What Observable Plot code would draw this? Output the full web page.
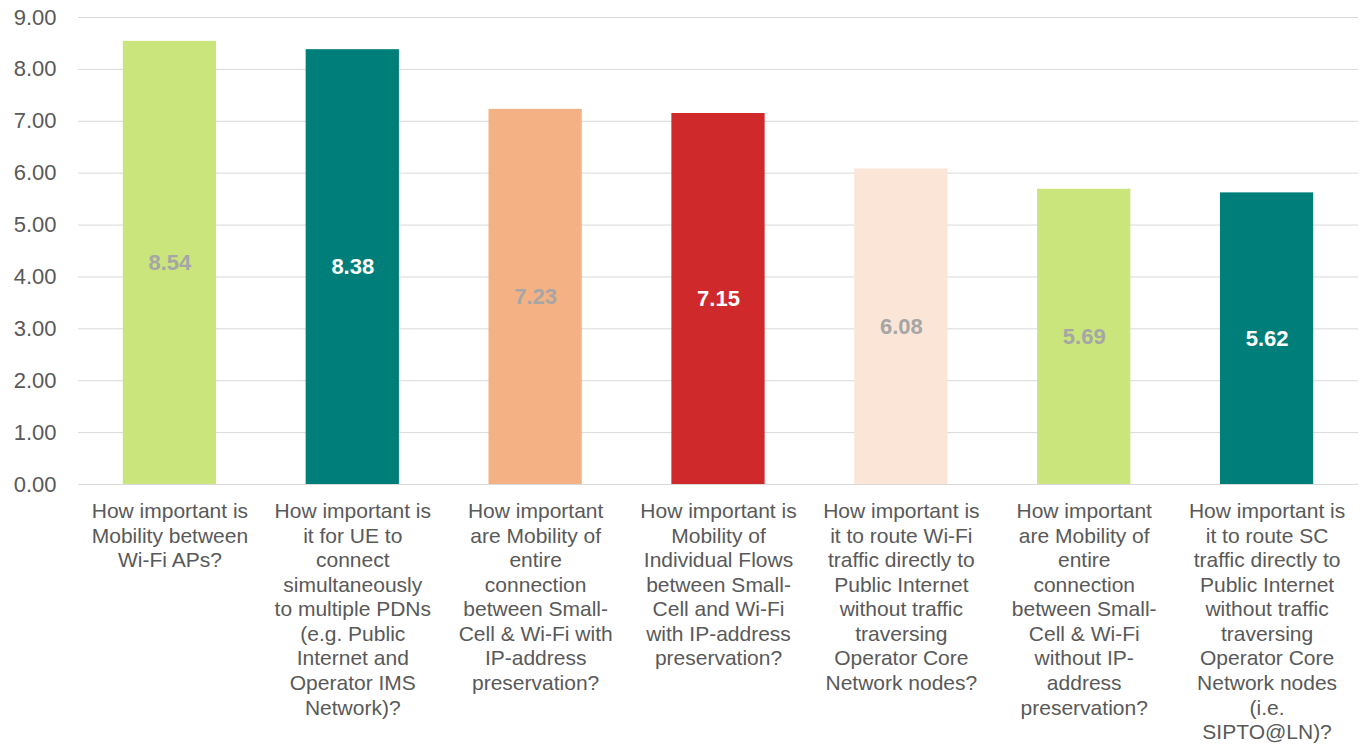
<!DOCTYPE html>
<html>
<head>
<meta charset="utf-8">
<script src="https://cdn.jsdelivr.net/npm/d3@7"></script>
<script src="https://cdn.jsdelivr.net/npm/@observablehq/plot@0.6"></script>
<style>
  html, body { margin: 0; padding: 0; background: #fff; }
  #chart svg { display: block; }
</style>
</head>
<body>
<div id="chart"></div>
<script>
const categories = [
  "How important is\nMobility between\nWi-Fi APs?",
  "How important is\nit for UE to\nconnect\nsimultaneously\nto multiple PDNs\n(e.g. Public\nInternet and\nOperator IMS\nNetwork)?",
  "How important\nare Mobility of\nentire\nconnection\nbetween Small-\nCell & Wi-Fi with\nIP-address\npreservation?",
  "How important is\nMobility of\nIndividual Flows\nbetween Small-\nCell and Wi-Fi\nwith IP-address\npreservation?",
  "How important is\nit to route Wi-Fi\ntraffic directly to\nPublic Internet\nwithout traffic\ntraversing\nOperator Core\nNetwork nodes?",
  "How important\nare Mobility of\nentire\nconnection\nbetween Small-\nCell & Wi-Fi\nwithout IP-\naddress\npreservation?",
  "How important is\nit to route SC\ntraffic directly to\nPublic Internet\nwithout traffic\ntraversing\nOperator Core\nNetwork nodes\n(i.e.\nSIPTO@LN)?"
];
const values = [8.54, 8.38, 7.23, 7.15, 6.08, 5.69, 5.62];
const barColors = ["#C9E57C", "#007F7A", "#F4B183", "#D0292C", "#FBE5D6", "#C9E57C", "#007F7A"];
const labelColors = ["#A6A6A6", "#FFFFFF", "#A6A6A6", "#FFFFFF", "#A6A6A6", "#A6A6A6", "#FFFFFF"];
const yTicks = [0, 1, 2, 3, 4, 5, 6, 7, 8, 9];

const data = categories.map((c, i) => ({cat: c, value: values[i], fill: barColors[i], lab: labelColors[i]}));

const chart = Plot.plot({
  width: 1371,
  height: 745,
  marginLeft: 78,
  marginRight: 13,
  marginTop: 17,
  marginBottom: 261,
  style: {fontFamily: "Arial, 'Liberation Sans', sans-serif", background: "#fff"},
  x: {domain: categories, paddingInner: 0.49, paddingOuter: 0.245, round: false, label: null},
  y: {domain: [0, 9], label: null},
  marks: [
    Plot.ruleY(yTicks, {stroke: "#D9D9D9", strokeWidth: 1}),
    Plot.barY(data, {x: "cat", y: "value", fill: "fill"}),
    Plot.text(data, {x: "cat", y: d => d.value / 2, text: d => d.value.toFixed(2), fill: "lab",
      fontSize: 22, fontWeight: "bold"}),
    Plot.axisY({ticks: yTicks, tickFormat: d => d.toFixed(2), tickSize: 0, tickPadding: 22,
      fontSize: 22, color: "#595959", label: null}),
    Plot.axisX({tickSize: 0, tickPadding: 16, fontSize: 21, lineHeight: 1.17, color: "#595959",
      label: null, tickFormat: d => d})
  ]
});
document.getElementById("chart").appendChild(chart);
</script>
</body>
</html>
